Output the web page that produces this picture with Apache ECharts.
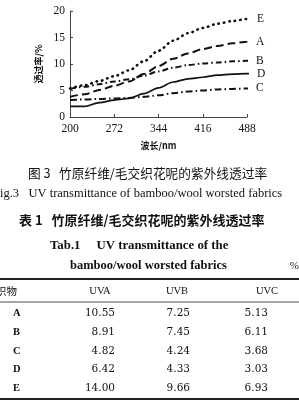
<!DOCTYPE html>
<html>
<head>
<meta charset="utf-8">
<script src="https://cdn.jsdelivr.net/npm/echarts@6/dist/echarts.min.js"></script>
<style>
html,body{margin:0;padding:0;background:#fff;}
#c{width:299px;height:417px;}
</style>
</head>
<body>
<div id="c"></div>
<script>
// ---- chart data ----
const wavelength = [200, 224, 248, 272, 296, 320, 344, 368, 392, 416, 440, 464, 488, 500];
const seriesNames = ['E', 'A', 'B', 'D', 'C'];
const valE = [5.4, 6.0, 6.8, 7.7, 8.8, 10.5, 12.5, 14.4, 15.8, 16.8, 17.6, 18.1, 18.5, 18.7];
const valA = [3.8, 4.3, 5.1, 5.9, 6.7, 8.1, 9.6, 11.0, 12.0, 12.8, 13.4, 13.9, 14.2, 14.3];
const valB = [5.3, 5.7, 6.2, 6.7, 7.1, 7.8, 8.6, 9.3, 9.8, 10.1, 10.3, 10.5, 10.6, 10.6];
const valD = [2.0, 2.0, 2.7, 3.2, 3.5, 4.4, 5.5, 6.6, 7.2, 7.5, 7.9, 8.1, 8.2, 8.2];
const valC = [3.2, 3.3, 3.4, 3.5, 3.6, 3.8, 4.1, 4.5, 4.8, 5.0, 5.2, 5.3, 5.4, 5.4];
const xTicks = [200, 272, 344, 416, 488];

// ---- table data ----
const fabrics = ['A', 'B', 'C', 'D', 'E'];
const uva = ['10.55', '8.91', '4.82', '6.42', '14.00'];
const uvb = ['7.25', '7.45', '4.24', '4.33', '9.66'];
const uvc = ['5.13', '6.11', '3.68', '3.03', '6.93'];
const tableHeader = ['织物', 'UVA', 'UVB', 'UVC'];

const ink = '#111';
const serif = '"Liberation Serif", "Times New Roman", serif';
const cjk = '"Noto Sans CJK SC", sans-serif';

const styles = {
  E: {type: [0.5, 5], width: 2.6, cap: 'round'},
  A: {type: [8, 4], width: 2, cap: 'butt'},
  B: {type: [6, 3, 1.5, 3], width: 2, cap: 'butt'},
  D: {type: 'solid', width: 1.7, cap: 'butt'},
  C: {type: [7, 3, 1.5, 3], width: 2, cap: 'butt'}
};
const vals = {E: valE, A: valA, B: valB, D: valD, C: valC};

const series = seriesNames.map(n => ({
  name: n,
  type: 'line',
  data: wavelength.map((w, i) => [w, vals[n][i]]),
  showSymbol: false,
  smooth: 0.3,
  smoothMonotone: 'x',
  clip: false,
  lineStyle: {color: ink, width: styles[n].width, type: styles[n].type, cap: styles[n].cap},
  endLabel: {show: true, formatter: n, color: ink, fontFamily: serif, fontSize: 11.5, distance: 8},
  emphasis: {disabled: true}
}));

// graphic texts & table
const g = [];
function txt(text, x, y, font, align) {
  g.push({type: 'text', style: {text: text, x: x, y: y, font: font, fill: ink, align: align || 'left', verticalAlign: 'middle'}});
}
function rule(y, w) {
  g.push({type: 'line', shape: {x1: 0, y1: y, x2: 299, y2: y}, style: {stroke: '#222', lineWidth: w}});
}
txt('图 3   竹原纤维/毛交织花呢的紫外线透过率', 28, 173, '12.7px ' + cjk);
txt('ig.3   UV transmittance of bamboo/wool worsted fabrics', 0, 194, '12.5px ' + serif);
txt('表 1   竹原纤维/毛交织花呢的紫外线透过率', 19, 220, 'bold 13px ' + cjk);
txt('Tab.1     UV transmittance of the', 50, 246, 'bold 12.8px ' + serif);
txt('bamboo/wool worsted fabrics', 70, 266, 'bold 12.5px ' + serif);
txt('%', 299, 266, '11px ' + serif, 'right');
rule(279, 2.2);
txt(tableHeader[0], -4, 291, '10.5px ' + cjk);
txt(tableHeader[1], 100, 291, '10.5px ' + serif, 'center');
txt(tableHeader[2], 177, 291, '10.5px ' + serif, 'center');
txt(tableHeader[3], 267, 291, '10.5px ' + serif, 'center');
rule(302, 0.8);
const rowY = [313, 332, 351, 369, 388];
fabrics.forEach((f, i) => {
  txt(f, 13, rowY[i], 'bold 10.5px ' + serif);
  txt(uva[i], 115, rowY[i], '10.5px "DejaVu Serif", serif', 'right');
  txt(uvb[i], 190, rowY[i], '10.5px "DejaVu Serif", serif', 'right');
  txt(uvc[i], 268, rowY[i], '10.5px "DejaVu Serif", serif', 'right');
});
rule(399, 2.2);

const chart = echarts.init(document.getElementById('c'), null, {renderer: 'canvas'});
chart.setOption({
  animation: false,
  backgroundColor: '#fff',
  grid: {left: 70, right: 52, top: 11, bottom: 300, containLabel: false},
  xAxis: {
    type: 'value', min: 200, max: 488,
    name: '波长/nm', nameLocation: 'middle', nameGap: 24,
    nameTextStyle: {fontFamily: cjk, fontSize: 9, fontWeight: 'bold', color: ink},
    axisLine: {show: true, lineStyle: {color: '#444', width: 1}},
    axisTick: {show: true, inside: true, length: 3, customValues: xTicks, lineStyle: {color: '#444'}},
    axisLabel: {customValues: xTicks, fontFamily: serif, fontSize: 11.5, color: ink, margin: 6},
    splitLine: {show: false}
  },
  yAxis: {
    type: 'value', min: 0, max: 20, interval: 5,
    name: '透过率/%', nameLocation: 'middle', nameGap: 23, nameRotate: 90,
    nameTextStyle: {fontFamily: cjk, fontSize: 9, fontWeight: 'bold', color: ink},
    axisLine: {show: true, lineStyle: {color: '#444', width: 1}},
    axisTick: {show: true, inside: true, length: 3, lineStyle: {color: '#444'}},
    axisLabel: {fontFamily: serif, fontSize: 11.5, color: ink, margin: 5},
    splitLine: {show: false}
  },
  series: series,
  graphic: g
});
</script>
</body>
</html>
